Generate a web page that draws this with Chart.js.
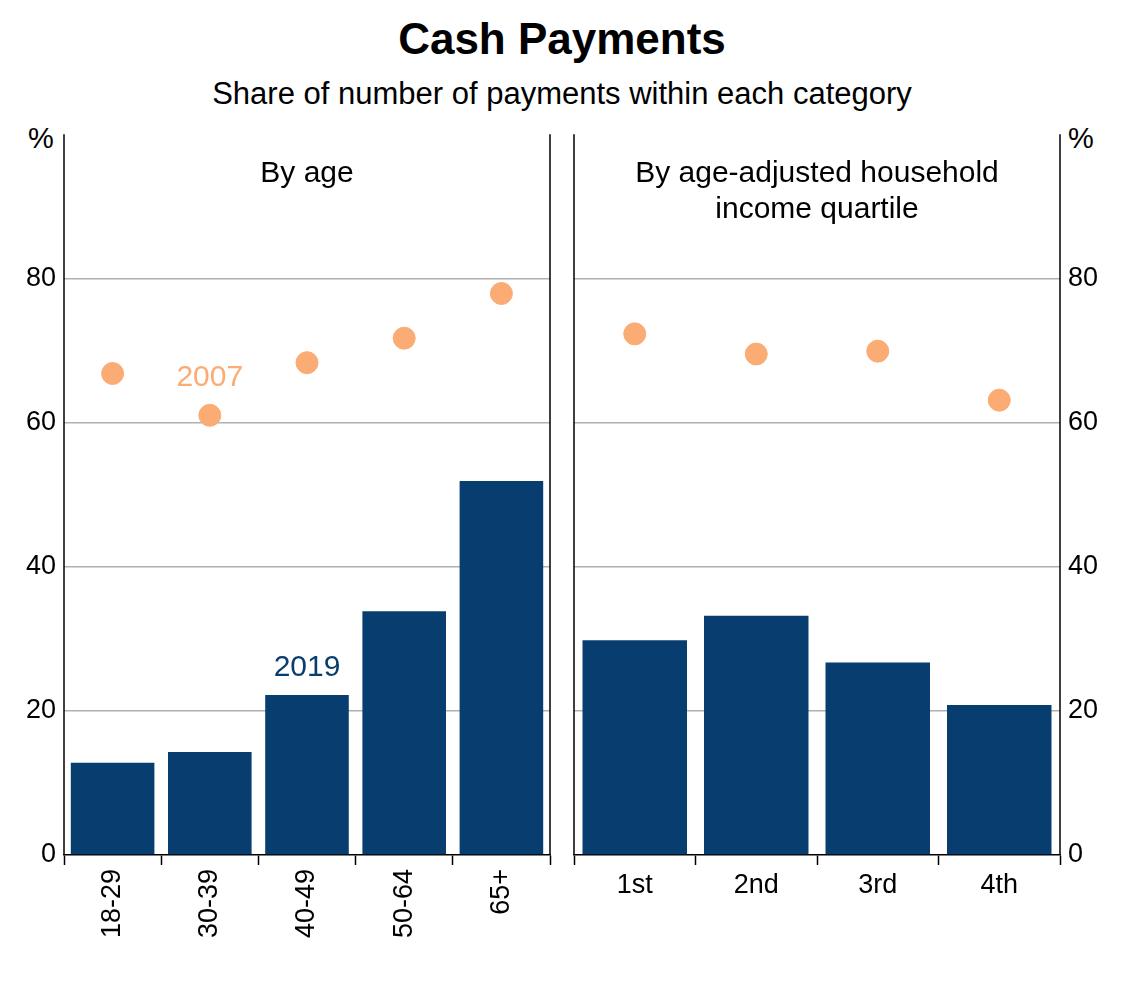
<!DOCTYPE html>
<html><head><meta charset="utf-8">
<script src="https://cdn.jsdelivr.net/npm/chart.js@4"></script>
<style>
body{margin:0;background:#fff;font-family:"Liberation Sans",Arial,sans-serif;}
#wrap{position:relative;width:1140px;height:990px;}
.t{position:absolute;left:0;width:1124px;text-align:center;color:#000;}
#c1{position:absolute;left:0;top:110px;}
#c2{position:absolute;left:562px;top:110px;}
</style></head><body>
<div id="wrap">
<div class="t" style="top:14px;font-size:44px;font-weight:bold;">Cash Payments</div>
<div class="t" style="top:76px;font-size:31px;">Share of number of payments within each category</div>
<div style="position:absolute;left:28px;top:122px;font-size:29px;">%</div>
<div style="position:absolute;left:1068px;top:122px;font-size:29px;">%</div>
<canvas id="c1"></canvas>
<canvas id="c2"></canvas>
</div>
<script>
const ageCats=["18-29","30-39","40-49","50-64","65+"];
const age2019=[12.8,14.3,22.2,33.8,51.9];
const age2007=[66.8,61.0,68.3,71.7,77.9];
const incCats=["1st","2nd","3rd","4th"];
const inc2019=[29.8,33.2,26.7,20.8];
const inc2007=[72.3,69.5,69.9,63.1];
const yTicks=[0,20,40,60,80];

const NAVY="#073E6F", ORANGE="#FBAC74";
const FONT={family:"'Liberation Sans',Arial,sans-serif",size:27};
function make(id,w,cats,bars,dots,side,heading,rot,extra){
  const cv=document.getElementById(id);
  cv.width=w;cv.height=880;cv.style.width=w+'px';cv.style.height='880px';
  const plug={id:'p'+id,afterDraw(c){
    const ctx=c.ctx,a=c.chartArea;ctx.save();
    ctx.strokeStyle='#000';ctx.lineWidth=1.5;ctx.beginPath();
    ctx.moveTo(a.left,a.top);ctx.lineTo(a.left,a.bottom);
    ctx.moveTo(a.right,a.top);ctx.lineTo(a.right,a.bottom);ctx.stroke();
    ctx.fillStyle='#000';ctx.font="30px 'Liberation Sans',Arial";ctx.textAlign='center';ctx.textBaseline='middle';
    const cx=(a.left+a.right)/2;
    heading.forEach((h,i)=>ctx.fillText(h,cx,a.top+40+i*36));
    if(extra)extra(c,ctx);
    ctx.restore();}};
  return new Chart(cv,{data:{labels:cats,datasets:[
    {type:'scatter',data:dots.map((v,i)=>({x:cats[i],y:v})),backgroundColor:ORANGE,borderColor:ORANGE,pointRadius:11,pointHoverRadius:11},
    {type:'bar',data:bars,backgroundColor:NAVY,barPercentage:0.86,categoryPercentage:1}]},
   options:{responsive:false,animation:false,
    layout:{padding:{top:10,left:side==='left'?0:0,right:0}},
    plugins:{legend:{display:false},tooltip:{enabled:false}},
    scales:{
     x:{type:'category',labels:cats,offset:true,
        grid:{offset:true,drawOnChartArea:false,color:'#000',tickLength:10,tickWidth:1.5},
        border:{color:'#000',width:1.5},
        ticks:{color:'#000',font:FONT,maxRotation:rot,minRotation:rot,padding:4},
        afterFit(s){s.height=135;}},
     y:{position:side,min:0,max:100,
        afterBuildTicks(s){s.ticks=yTicks.map(v=>({value:v}));},
        grid:{color:c=>(c.tick&&c.tick.value>0)?'#B0B0B0':'rgba(0,0,0,0)',lineWidth:1.5,drawTicks:false},
        border:{display:false},
        ticks:{color:'#000',font:FONT,padding:8,display:side==='left'||true},
        afterFit(s){s.width=side==='left'?64:80;}}
    }},plugins:[plug]});
}
make('c1',562,ageCats,age2019,age2007,'left',['By age'],90,(c,ctx)=>{
  const x=c.scales.x,y=c.scales.y;ctx.font="30px 'Liberation Sans',Arial";
  ctx.fillStyle=ORANGE;ctx.fillText('2007',x.getPixelForValue(1),y.getPixelForValue(66.2));
  ctx.fillStyle=NAVY;ctx.fillText('2019',x.getPixelForValue(2),y.getPixelForValue(26));
});
make('c2',578,incCats,inc2019,inc2007,'right',['By age-adjusted household','income quartile'],0,null);
</script>
</body></html>
